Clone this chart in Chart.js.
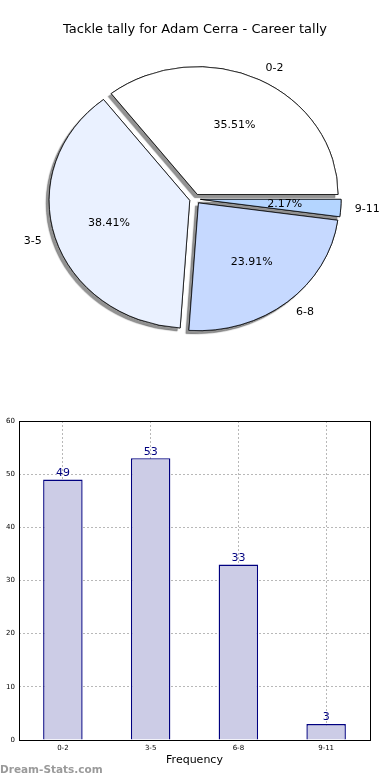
<!DOCTYPE html>
<html>
<head>
<meta charset="utf-8">
<script src="https://cdn.jsdelivr.net/npm/chart.js@4/dist/chart.umd.min.js"></script>
<style>
  html, body { margin: 0; padding: 0; background: #fff; }
  body { width: 390px; height: 780px; position: relative; overflow: hidden; }
  #pieWrap { position: absolute; left: 0; top: 0; width: 390px; height: 398px; }
  #barWrap { position: absolute; left: 0; top: 398px; width: 390px; height: 382px; }
</style>
</head>
<body>
<div id="pieWrap"><canvas id="pie" width="390" height="398"></canvas></div>
<div id="barWrap"><canvas id="bar" width="390" height="382"></canvas></div>
<script>
const chartTitle = 'Tackle tally for Adam Cerra - Career tally';
const categories = ['0-2', '3-5', '6-8', '9-11'];
const tallies = [49, 53, 33, 3];
const pieColors = ['#ffffff', '#eaf1ff', '#c6d9ff', '#b4d5ff'];
const yTicks = [0, 10, 20, 30, 40, 50, 60];
const xAxisTitle = 'Frequency';
const watermark = 'Dream-Stats.com';

const FONT = "'DejaVu Sans', sans-serif";
const total = tallies.reduce((a, b) => a + b, 0);

// matplotlib draws counter-clockwise from 3 o'clock; Chart.js draws clockwise,
// so feed the slices in reverse order starting at 3 o'clock.
const pieLabels = categories.slice().reverse();
const pieValues = tallies.slice().reverse();
const pieFill = pieColors.slice().reverse();

const Y_SCALE = 0.909;       // elliptical pie (non-equal aspect)
const EXPLODE = 5.5;         // pixels along the slice's mid angle

const piePlugin = {
  id: 'pieStyle',
  beforeDatasetsDraw(chart) {
    const ctx = chart.ctx;
    const arcs = chart.getDatasetMeta(0).data;
    const cx = arcs[0].x, cy = arcs[0].y;
    const pass = (withShadow) => {
      arcs.forEach(a => {
        const mid = (a.startAngle + a.endAngle) / 2;
        ctx.save();
        ctx.translate(cx, cy);
        ctx.scale(1, Y_SCALE);
        ctx.translate(-cx, -cy);
        ctx.translate(Math.cos(mid) * EXPLODE, Math.sin(mid) * EXPLODE);
        if (withShadow) {
          ctx.shadowColor = 'rgba(40,40,40,0.5)';
          ctx.shadowBlur = 1;
          ctx.shadowOffsetX = -3;
          ctx.shadowOffsetY = 3;
        }
        a.draw(ctx);
        ctx.restore();
      });
    };
    pass(true);
    pass(false);
    return false;
  },
  afterDraw(chart) {
    const ctx = chart.ctx;
    const arcs = chart.getDatasetMeta(0).data;
    ctx.save();
    ctx.fillStyle = '#000';
    ctx.font = '11px ' + FONT;
    ctx.textBaseline = 'middle';
    arcs.forEach((a, i) => {
      const mid = (a.startAngle + a.endAngle) / 2;
      const ux = Math.cos(mid), uy = Math.sin(mid);
      const R = a.outerRadius;
      const lx = a.x + ux * (EXPLODE + 1.1 * R);
      const ly = a.y + uy * (EXPLODE + 1.1 * R) * Y_SCALE;
      ctx.textAlign = ux >= 0 ? 'left' : 'right';
      ctx.fillText(pieLabels[i], lx, ly);
      const px = a.x + ux * (EXPLODE + 0.6 * R);
      const py = a.y + uy * (EXPLODE + 0.6 * R) * Y_SCALE;
      ctx.textAlign = 'center';
      ctx.fillText((pieValues[i] / total * 100).toFixed(2) + '%', px, py);
    });
    ctx.restore();
  }
};

new Chart(document.getElementById('pie'), {
  type: 'pie',
  data: {
    labels: pieLabels,
    datasets: [{
      data: pieValues,
      backgroundColor: pieFill,
      borderColor: '#000',
      borderWidth: 0.8,
      borderAlign: 'center'
    }]
  },
  options: {
    responsive: false,
    animation: false,
    events: [],
    rotation: 90,
    radius: 140.6,
    layout: { padding: { top: 0, bottom: 37.6, left: 0, right: 0 } },
    plugins: {
      legend: { display: false },
      tooltip: { enabled: false },
      title: {
        display: true,
        text: chartTitle,
        color: '#000',
        font: { family: FONT, size: 13, weight: 'normal', lineHeight: 1.2 },
        padding: { top: 22, bottom: 0 }
      }
    }
  },
  plugins: [piePlugin]
});

const barPlugin = {
  id: 'barExtras',
  afterDraw(chart) {
    const ctx = chart.ctx;
    const ca = chart.chartArea;
    ctx.save();
    ctx.strokeStyle = '#000';
    ctx.lineWidth = 1;
    ctx.strokeRect(Math.round(ca.left) + 0.5, Math.round(ca.top) + 0.5,
                   Math.round(ca.right - ca.left), Math.round(ca.bottom - ca.top));
    const bars = chart.getDatasetMeta(0).data;
    ctx.fillStyle = '#000080';
    ctx.font = '11px ' + FONT;
    ctx.textAlign = 'center';
    ctx.textBaseline = 'bottom';
    bars.forEach((b, i) => {
      ctx.fillText(String(tallies[i]), b.x, b.y - 1);
    });
    ctx.fillStyle = '#9a9a9a';
    ctx.font = 'bold 10.5px ' + FONT;
    ctx.textAlign = 'left';
    ctx.textBaseline = 'middle';
    ctx.fillText(watermark, 0, 372);
    ctx.restore();
  }
};

new Chart(document.getElementById('bar'), {
  type: 'bar',
  data: {
    labels: categories,
    datasets: [{
      data: tallies,
      backgroundColor: '#ccccE6',
      borderColor: '#000080',
      borderWidth: 1.4,
      barPercentage: 0.45,
      categoryPercentage: 1.0
    }]
  },
  options: {
    responsive: false,
    animation: false,
    events: [],
    layout: { padding: { top: 23, right: 20, left: 0, bottom: 0 } },
    plugins: { legend: { display: false }, tooltip: { enabled: false } },
    scales: {
      x: {
        z: 1,
        offset: true,
        grid: { offset: false, color: '#b8b8b8', lineWidth: 1, drawTicks: false },
        border: { display: false, dash: [2, 2] },
        ticks: { color: '#000', font: { family: FONT, size: 7 }, padding: 4, maxRotation: 0 },
        title: { display: true, text: xAxisTitle, color: '#000', font: { family: FONT, size: 11 }, padding: { top: 0, bottom: 13 } },
        afterFit(scale) { scale.height = 40; }
      },
      y: {
        min: yTicks[0],
        max: yTicks[yTicks.length - 1],
        afterBuildTicks(scale) { scale.ticks = yTicks.map(v => ({ value: v })); },
        grid: { color: '#b8b8b8', lineWidth: 1, drawTicks: false },
        border: { display: false, dash: [2, 2] },
        ticks: { color: '#000', font: { family: FONT, size: 7 }, padding: 4 },
        afterFit(scale) { scale.width = 19; }
      }
    }
  },
  plugins: [barPlugin]
});
</script>
</body>
</html>
